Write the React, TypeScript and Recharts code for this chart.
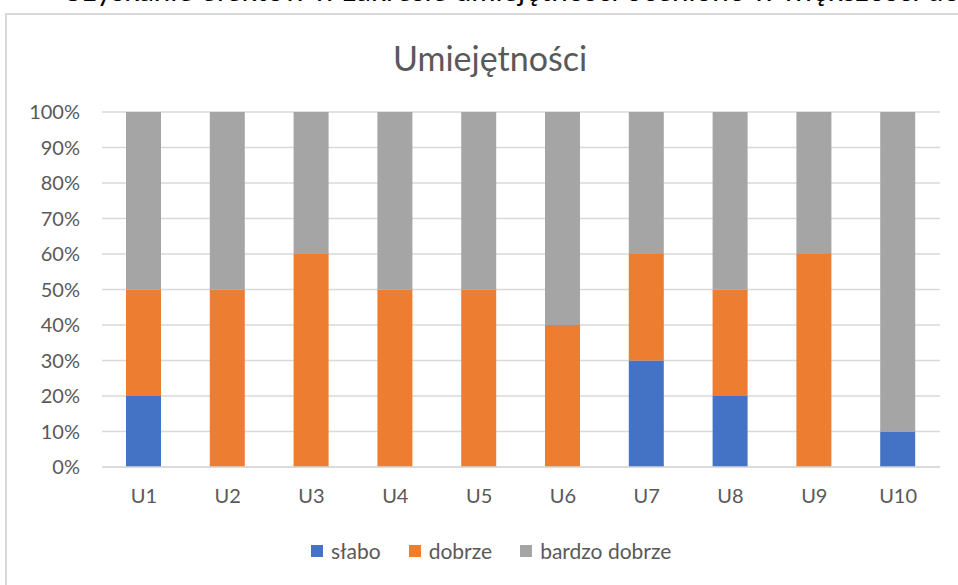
import { BarChart, Bar, XAxis, YAxis, CartesianGrid } from 'recharts'

const categories = ['U1', 'U2', 'U3', 'U4', 'U5', 'U6', 'U7', 'U8', 'U9', 'U10']
const slabo = [20, 0, 0, 0, 0, 0, 30, 20, 0, 10]
const dobrze = [30, 50, 60, 50, 50, 40, 30, 30, 60, 0]
const bardzoDobrze = [50, 50, 40, 50, 50, 60, 40, 50, 40, 90]
const yTicks = [0, 10, 20, 30, 40, 50, 60, 70, 80, 90, 100]

const series = [
  { key: 'slabo', name: 'słabo', color: '#4472C4' },
  { key: 'dobrze', name: 'dobrze', color: '#ED7D31' },
  { key: 'bardzo', name: 'bardzo dobrze', color: '#A5A5A5' },
]

const data = categories.map((c, i) => ({
  name: c,
  slabo: slabo[i],
  dobrze: dobrze[i],
  bardzo: bardzoDobrze[i],
}))

const FONT = 'Lato, "Open Sans", sans-serif'
const TEXT = '#595959'

export default function App() {
  return (
    <div style={{ position: 'absolute', left: 0, top: 0, width: 958, height: 585, overflow: 'hidden', background: '#fff', fontFamily: FONT }}>
      {/* cut-off paragraph above the chart */}
      <div style={{ position: 'absolute', left: 62, top: -28, whiteSpace: 'nowrap', fontSize: 29.5, color: '#000', fontFamily: FONT }}>
        Uzyskanie efektów w zakresie umiejętności oceniono w większości do
      </div>

      {/* chart frame */}
      <div style={{ position: 'absolute', left: 5, top: 13, width: 1000, height: 700, border: '2px solid #d9d9d9', boxSizing: 'border-box' }} />

      <div style={{ position: 'absolute', left: 0, right: 0, top: 37, textAlign: 'center', paddingLeft: 22, fontSize: 34, color: TEXT }}>
        Umiejętności
      </div>

      <div style={{ position: 'absolute', left: 0, top: 0 }}>
        <BarChart width={958} height={585} data={data} margin={{ top: 112, right: 18, left: 0, bottom: 88 }}>
          <CartesianGrid vertical={false} stroke="#d9d9d9" strokeWidth={1.5} />
          <XAxis
            dataKey="name"
            height={30}
            tickLine={false}
            tickSize={0}
            tickMargin={22}
            axisLine={{ stroke: '#d9d9d9', strokeWidth: 1.5 }}
            tick={{ fill: TEXT, fontSize: 20, fontFamily: FONT }}
          />
          <YAxis
            width={102}
            domain={[0, 100]}
            ticks={yTicks}
            interval={0}
            tickFormatter={(v) => `${v}%`}
            tickLine={false}
            axisLine={false}
            tickSize={0}
            tickMargin={22}
            tick={{ fill: TEXT, fontSize: 20, fontFamily: FONT }}
          />
          {series.map((s) => (
            <Bar key={s.key} dataKey={s.key} name={s.name} stackId="a" fill={s.color} barSize={35} isAnimationActive={false} />
          ))}
        </BarChart>
      </div>

      {/* legend */}
      <div style={{ position: 'absolute', left: 311, top: 538, display: 'flex', alignItems: 'center', fontSize: 21, color: TEXT }}>
        {series.map((s, i) => (
          <div key={s.key} style={{ display: 'flex', alignItems: 'center', marginRight: i < series.length - 1 ? 28 : 0 }}>
            <span style={{ width: 12, height: 12, background: s.color, display: 'inline-block', marginRight: 8 }} />
            <span>{s.name}</span>
          </div>
        ))}
      </div>
    </div>
  )
}
